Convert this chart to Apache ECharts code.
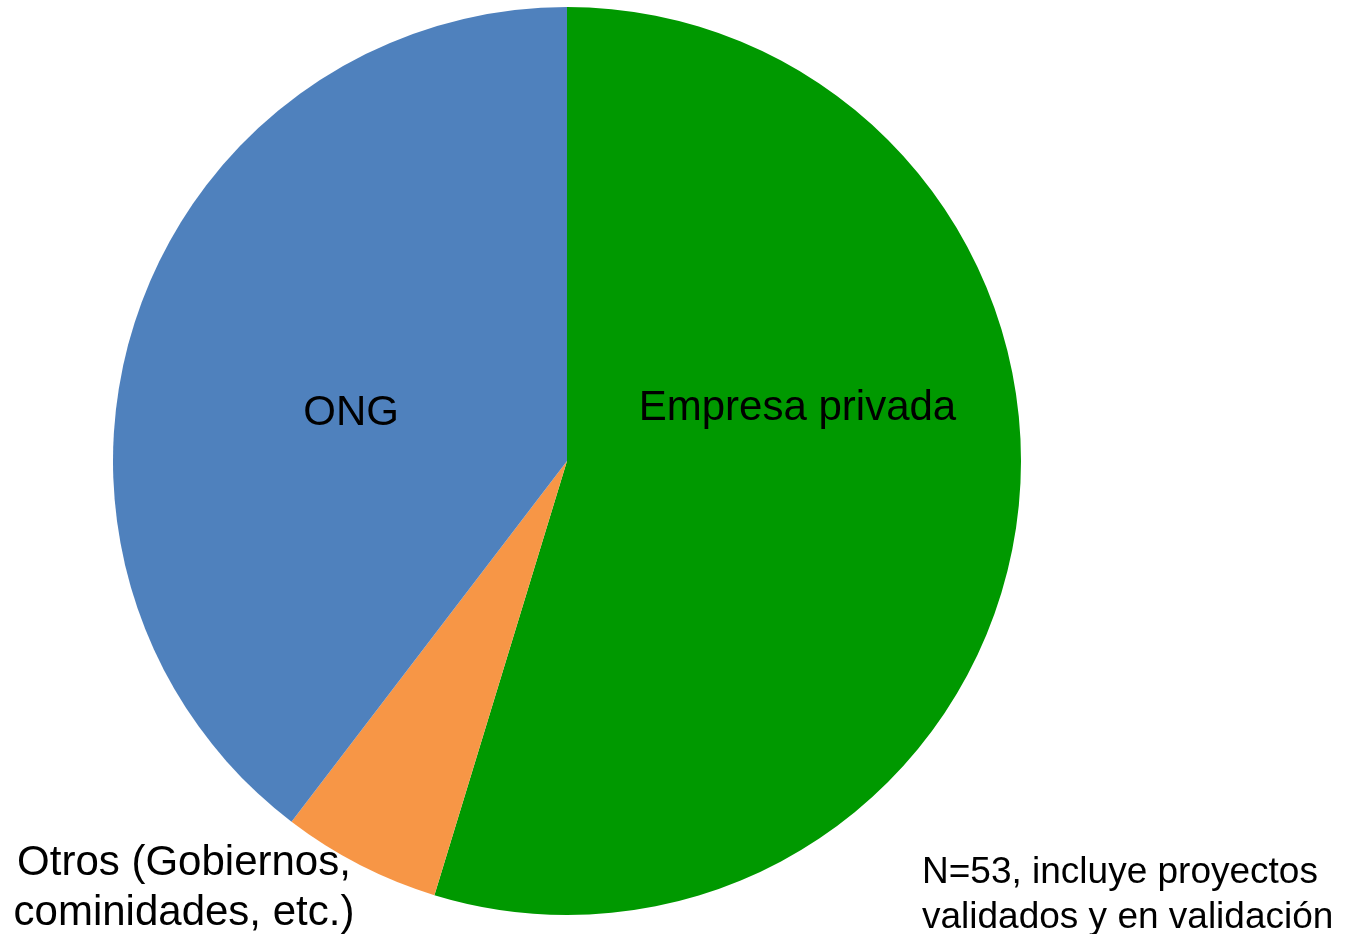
<!DOCTYPE html>
<html>
<head>
<meta charset="utf-8">
<script src="https://cdn.jsdelivr.net/npm/echarts@6/dist/echarts.min.js"></script>
<style>
html,body{margin:0;padding:0;background:#fff;}
#chart{width:1349px;height:934px;}
</style>
</head>
<body>
<div id="chart"></div>
<script>
const categories = ['Empresa privada', 'Otros (Gobiernos,\ncominidades, etc.)', 'ONG'];
const values = [29, 3, 21];
const colors = ['#009900', '#F79646', '#4F81BD'];
const labelOffsets = [[3, -87], [-278, 223], [2, 26]];
const note = 'N=53, incluye proyectos\nvalidados y en validación';

const chart = echarts.init(document.getElementById('chart'), null, {renderer: 'canvas'});
const data = categories.map((c, i) => ({
  name: c,
  value: values[i],
  itemStyle: {color: colors[i]},
  label: {offset: labelOffsets[i]}
}));
chart.setOption({
  animation: false,
  backgroundColor: '#ffffff',
  series: [{
    type: 'pie',
    center: [567, 461],
    radius: [0, 454],
    startAngle: 90,
    clockwise: true,
    avoidLabelOverlap: false,
    itemStyle: {borderWidth: 0},
    label: {
      show: true,
      position: 'inside',
      formatter: '{b}',
      color: '#000',
      fontFamily: 'Liberation Sans, Arial, sans-serif',
      fontSize: 42,
      lineHeight: 50,
      align: 'center'
    },
    labelLine: {show: false},
    emphasis: {disabled: true},
    data: data
  }],
  graphic: [{
    type: 'text',
    left: 922,
    top: 850,
    style: {
      text: note,
      fill: '#000',
      font: '37px "Liberation Sans", Arial, sans-serif',
      lineHeight: 45
    }
  }]
});
</script>
</body>
</html>
